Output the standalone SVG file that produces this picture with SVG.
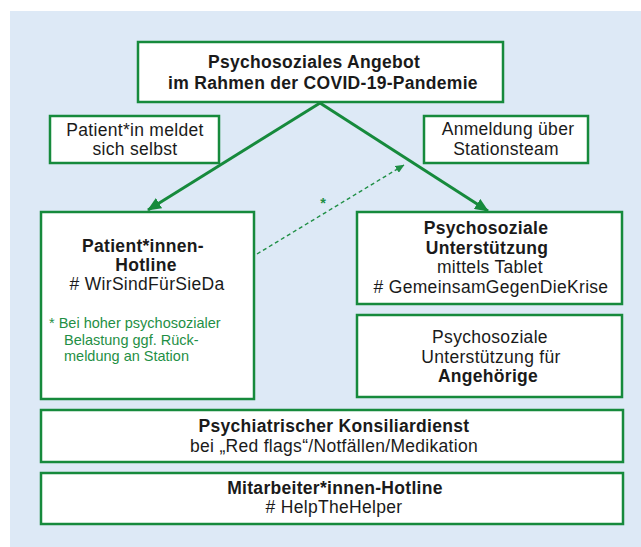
<svg xmlns="http://www.w3.org/2000/svg" width="641" height="547" viewBox="0 0 641 547">
<defs>
<style>
.box{fill:#ffffff;stroke:#168a3c;stroke-width:2.5}
.t{font-family:"Liberation Sans",Arial,sans-serif;font-size:17.5px;letter-spacing:0.3px;fill:#1a1a1a;text-anchor:middle}
.b{font-weight:bold}
.g{font-family:"Liberation Sans",Arial,sans-serif;font-size:14.5px;fill:#1f8f45}
.main{stroke:#168a3c;stroke-width:3;fill:none}
.dash{stroke:#1f8f45;stroke-width:1.4;stroke-dasharray:4 3;fill:none}
</style>
<marker id="ah" markerUnits="userSpaceOnUse" viewBox="0 0 14 12" refX="13" refY="6" markerWidth="14" markerHeight="12" orient="auto">
<path d="M0,0 L14,6 L0,12 Z" fill="#168a3c"/>
</marker>
<marker id="ahs" markerUnits="userSpaceOnUse" viewBox="0 0 9 8" refX="8.5" refY="4" markerWidth="9" markerHeight="8" orient="auto">
<path d="M0,0 L9,4 L0,8 Z" fill="#1f8f45"/>
</marker>
</defs>
<rect x="10" y="11" width="631" height="536" fill="#dde9f6"/>
<g id="connectors">
<line class="main" x1="320" y1="103" x2="148" y2="210" marker-end="url(#ah)"/>
<line class="main" x1="320" y1="103" x2="488" y2="211" marker-end="url(#ah)"/>
<line class="dash" x1="257" y1="254" x2="404" y2="165" marker-end="url(#ahs)"/>
<text x="323" y="208" class="g" text-anchor="middle" font-weight="bold">*</text>
</g>
<g id="top">
<rect class="box" x="138" y="42" width="365" height="60"/>
<text class="t b" x="314" y="68">Psychosoziales Angebot</text>
<text class="t b" x="323" y="89">im Rahmen der COVID-19-Pandemie</text>
</g>
<g id="selbst">
<rect class="box" x="50" y="116" width="169" height="47"/>
<text class="t" x="135" y="136">Patient*in meldet</text>
<text class="t" x="135" y="155">sich selbst</text>
</g>
<g id="station">
<rect class="box" x="424" y="116" width="164" height="47"/>
<text class="t" x="508" y="135">Anmeldung über</text>
<text class="t" x="506" y="155">Stationsteam</text>
</g>
<g id="hotline">
<rect class="box" x="41" y="212" width="213" height="187"/>
<text class="t b" x="143" y="252">Patient*innen-</text>
<text class="t b" x="146" y="271">Hotline</text>
<text class="t" x="147" y="290"># WirSindFürSieDa</text>
<text class="g" x="49" y="328">* Bei hoher psychosozialer</text>
<text class="g" x="64" y="345">Belastung ggf. Rück-</text>
<text class="g" x="64" y="361">meldung an Station</text>
</g>
<g id="tablet">
<rect class="box" x="357" y="212" width="265" height="92"/>
<text class="t b" x="486" y="234">Psychosoziale</text>
<text class="t b" x="487" y="254">Unterstützung</text>
<text class="t" x="490" y="273">mittels Tablet</text>
<text class="t" x="491" y="293"># GemeinsamGegenDieKrise</text>
</g>
<g id="angehoerige">
<rect class="box" x="357" y="315" width="265" height="82"/>
<text class="t" x="490" y="343">Psychosoziale</text>
<text class="t" x="491" y="363">Unterstützung für</text>
<text class="t b" x="488" y="382">Angehörige</text>
</g>
<g id="konsil">
<rect class="box" x="41" y="410" width="582" height="52"/>
<text class="t b" x="334" y="432">Psychiatrischer Konsiliardienst</text>
<text class="t" x="334" y="452">bei „Red flags“/Notfällen/Medikation</text>
</g>
<g id="mitarbeiter">
<rect class="box" x="41" y="473" width="582" height="51"/>
<text class="t b" x="335" y="494">Mitarbeiter*innen-Hotline</text>
<text class="t" x="334" y="513"># HelpTheHelper</text>
</g>
</svg>
